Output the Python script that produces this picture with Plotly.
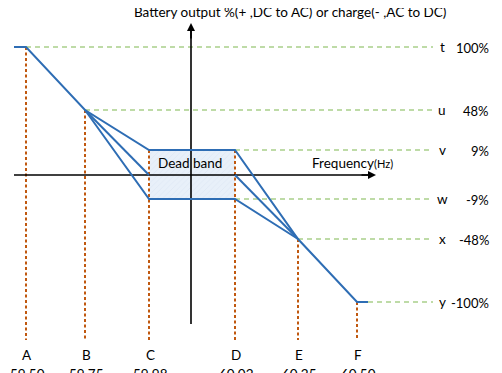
import plotly.graph_objects as go

# ---- data (schematic) ----
freq_labels = ["A", "B", "C", "D", "E", "F"]
freq_values = ["59.50", "59.75", "59.98", "60.02", "60.25", "60.50"]
level_labels = ["t", "u", "v", "w", "x", "y"]
level_values = ["100%", "48%", "9%", "-9%", "-48%", "-100%"]

# schematic layout positions of the points (canvas units)
freq_pos = [26, 85, 149, 235, 298, 357]
level_pos = [47, 110, 150, 199, 239, 302]
zero_pos = 175
axis_y_x = 191

BLUE = "#2E6DB4"
GREEN = "#A9CF8A"
ORANGE = "#C0580F"
FONT = "Lato"
FS = 13.5
PAGE_OFFSET = 8  # default body margin of the html page

fx = dict(zip(freq_labels, freq_pos))
ly = dict(zip(level_labels, level_pos))

fig = go.Figure()

# dead band shaded area
fig.add_trace(go.Scatter(
    x=[fx["C"], fx["D"], fx["D"], fx["C"], fx["C"]],
    y=[ly["v"], ly["v"], ly["w"], ly["w"], ly["v"]],
    mode="lines", fill="toself", line=dict(width=0),
    fillcolor="rgba(225,236,246,1)",
    fillpattern=dict(shape="/", fgcolor="rgba(190,208,230,0.8)", bgcolor="rgba(232,240,249,1)", size=4, solidity=0.12),
    hoverinfo="skip", showlegend=False))

# green dashed horizontal guides
green_start = {"t": fx["A"], "u": fx["B"], "v": fx["D"], "w": fx["D"], "x": fx["E"], "y": fx["F"] + 11}
for lab in level_labels:
    fig.add_trace(go.Scatter(x=[green_start[lab], 433], y=[ly[lab], ly[lab]], mode="lines",
                             line=dict(color=GREEN, width=1.6, dash="5px,4px"),
                             hoverinfo="skip", showlegend=False))

# orange dashed verticals
orange_start = {"A": ly["t"], "B": ly["u"], "C": ly["v"], "D": ly["v"], "E": ly["x"], "F": ly["y"]}
for lab in freq_labels:
    fig.add_trace(go.Scatter(x=[fx[lab], fx[lab]], y=[orange_start[lab], 340], mode="lines",
                             line=dict(color=ORANGE, width=2, dash="3px,2.5px"),
                             hoverinfo="skip", showlegend=False))

# axes (black)
fig.add_trace(go.Scatter(x=[14, 372], y=[zero_pos, zero_pos], mode="lines",
                         line=dict(color="black", width=1.6), hoverinfo="skip", showlegend=False))
fig.add_trace(go.Scatter(x=[axis_y_x, axis_y_x], y=[28, 324], mode="lines",
                         line=dict(color="black", width=1.6), hoverinfo="skip", showlegend=False))

# blue droop curves
curves = [
    ([14, fx["A"], fx["B"], fx["C"], fx["D"], fx["E"], fx["F"], fx["F"] + 11],
     [ly["t"], ly["t"], ly["u"], ly["v"], ly["v"], ly["x"], ly["y"], ly["y"]]),
    ([fx["B"], fx["C"]], [ly["u"], zero_pos]),
    ([fx["D"], fx["E"]], [zero_pos, ly["x"]]),
    ([fx["B"], fx["C"], fx["D"], fx["E"]], [ly["u"], ly["w"], ly["w"], ly["x"]]),
]
for cx, cy in curves:
    fig.add_trace(go.Scatter(x=cx, y=cy, mode="lines", line=dict(color=BLUE, width=2),
                             hoverinfo="skip", showlegend=False))

ann = []
# arrowheads
ann.append(dict(x=376, y=zero_pos, ax=360, ay=zero_pos, xref="x", yref="y", axref="x", ayref="y",
                showarrow=True, arrowhead=2, arrowsize=1, arrowwidth=1.6, arrowcolor="black", text=""))
ann.append(dict(x=axis_y_x, y=23, ax=axis_y_x, ay=40, xref="x", yref="y", axref="x", ayref="y",
                showarrow=True, arrowhead=2, arrowsize=1, arrowwidth=1.6, arrowcolor="black", text=""))

# bottom labels
for lab, val, px in zip(freq_labels, freq_values, freq_pos):
    ann.append(dict(x=px + 1, y=355, text=lab, showarrow=False, xref="x", yref="y",
                    font=dict(family=FONT, size=FS, color="black")))
    ann.append(dict(x=px + 1, y=374, text=val, showarrow=False, xref="x", yref="y",
                    font=dict(family=FONT, size=FS, color="black")))

# right labels
for lab, val, py in zip(level_labels, level_values, level_pos):
    ann.append(dict(x=442, y=py, text=lab, showarrow=False, xref="x", yref="y",
                    font=dict(family=FONT, size=FS, color="black")))
    ann.append(dict(x=491, y=py + 1, text=val, showarrow=False, xref="x", yref="y", xanchor="right",
                    font=dict(family=FONT, size=13, color="black")))

ann.append(dict(x=290, y=12, text="Battery output %(+ ,DC to AC) or charge(- ,AC to DC)", showarrow=False,
                xref="x", yref="y", font=dict(family=FONT, size=FS, color="black")))
ann.append(dict(x=190, y=163, text="Dead band", showarrow=False, xref="x", yref="y",
                font=dict(family=FONT, size=FS, color="black")))
ann.append(dict(x=310, y=163, xanchor="left", text="Frequency<span style='font-size:11px'>(Hz)</span>",
                showarrow=False, xref="x", yref="y", font=dict(family=FONT, size=FS, color="black")))

W, H = 502, 373
fig.update_layout(
    width=W, height=H, margin=dict(l=0, r=0, t=0, b=0),
    paper_bgcolor="white", plot_bgcolor="white",
    xaxis=dict(range=[PAGE_OFFSET, W + PAGE_OFFSET], visible=False, fixedrange=True),
    yaxis=dict(range=[H + PAGE_OFFSET, PAGE_OFFSET], visible=False, fixedrange=True),
    annotations=ann, showlegend=False,
)

fig.write_html("out.html")
